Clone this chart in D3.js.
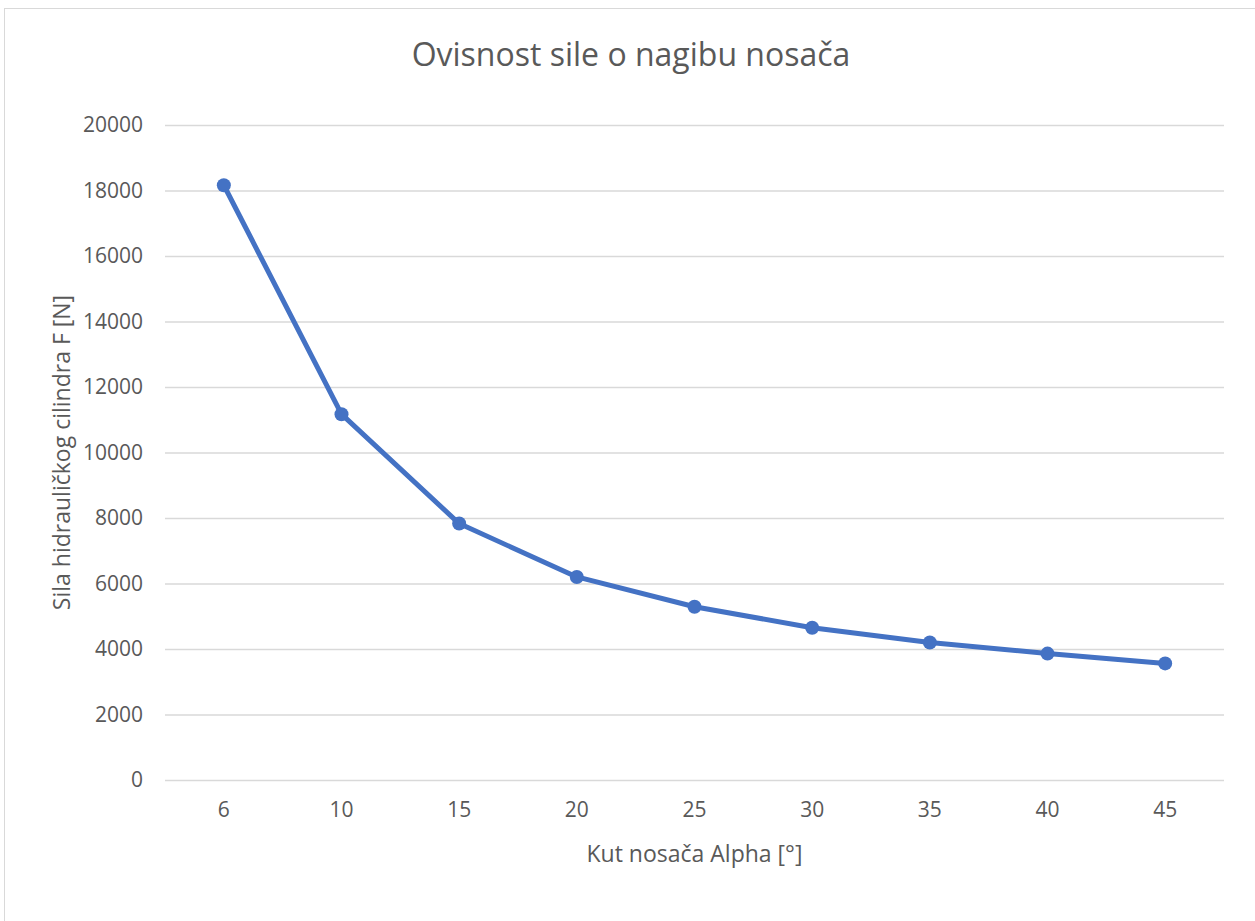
<!DOCTYPE html>
<html><head><meta charset="utf-8">
<script src="https://cdn.jsdelivr.net/npm/d3@7"></script>
<style>body{margin:0;background:#fff}svg{display:block}text{font-family:"Open Sans",sans-serif}</style>
</head><body>
<svg id="c" width="1255" height="921"></svg>
<script>
const categories = ["6","10","15","20","25","30","35","40","45"];
const values = [18160, 11170, 7830, 6200, 5290, 4650, 4200, 3860, 3560];
const yTicks = [0,2000,4000,6000,8000,10000,12000,14000,16000,18000,20000];
const titleText = "Ovisnost sile o nagibu nosača";
const xTitle = "Kut nosača Alpha [°]";
const yTitle = "Sila hidrauličkog cilindra F [N]";

const svg = d3.select("#c");
const m = {l:165, r:1224, t:125, b:780};
svg.append("rect").attr("x",4.5).attr("y",8.5).attr("width",1260).attr("height",920)
  .attr("fill","#fff").attr("stroke","#d9d9d9").attr("stroke-width",1);

const x = d3.scaleBand().domain(categories).range([m.l,m.r]);
const y = d3.scaleLinear().domain([0,20000]).range([m.b,m.t]);

const gy = svg.append("g").attr("transform",`translate(${m.l},0)`)
  .call(d3.axisLeft(y).tickValues(yTicks).tickSize(-(m.r-m.l)).tickPadding(22).tickFormat(d3.format("d")));
gy.select(".domain").remove();
gy.selectAll(".tick line").attr("stroke","#d9d9d9").attr("stroke-width",1.5);
gy.selectAll(".tick text").attr("fill","#595959").style("font-size","21px").style("font-family","Open Sans");

const gx = svg.append("g").attr("transform",`translate(0,${m.b})`)
  .call(d3.axisBottom(x).tickSize(0).tickPadding(22));
gx.select(".domain").remove();
gx.selectAll(".tick text").attr("fill","#595959").style("font-size","21px").style("font-family","Open Sans");

const line = d3.line().x((d,i)=>x(categories[i])+x.bandwidth()/2).y(d=>y(d));
svg.append("path").datum(values).attr("d",line).attr("fill","none")
  .attr("stroke","#4472C4").attr("stroke-width",5).attr("stroke-linejoin","round").attr("stroke-linecap","round");
svg.selectAll("circle.pt").data(values).join("circle").attr("class","pt")
  .attr("cx",(d,i)=>x(categories[i])+x.bandwidth()/2).attr("cy",d=>y(d)).attr("r",7)
  .attr("fill","#4472C4");

svg.append("text").attr("x",631).attr("y",66).attr("text-anchor","middle")
  .attr("fill","#595959").style("font-size","32px").text(titleText);
svg.append("text").attr("x",(m.l+m.r)/2).attr("y",862).attr("text-anchor","middle")
  .attr("fill","#595959").style("font-size","23px").text(xTitle);
svg.append("text").attr("transform",`translate(70,${(m.t+m.b)/2}) rotate(-90)`).attr("text-anchor","middle")
  .attr("fill","#595959").style("font-size","23px").text(yTitle);
</script>
</body></html>
